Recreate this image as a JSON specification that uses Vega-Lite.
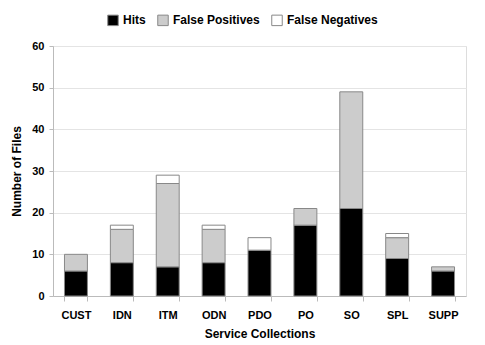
{
  "$schema": "https://vega.github.io/schema/vega-lite/v6.json",
  "width": 413,
  "height": 250,
  "autosize": {"type": "none"},
  "padding": {"left": 53, "top": 46, "right": 19, "bottom": 49},
  "background": "white",
  "config": {
    "font": "Liberation Sans",
    "view": {"stroke": "#dddddd", "strokeWidth": 1}
  },
  "data": {
    "values": [
      {"collection": "CUST", "type": "Hits", "order": 1, "files": 6},
      {"collection": "CUST", "type": "False Positives", "order": 2, "files": 4},
      {"collection": "CUST", "type": "False Negatives", "order": 3, "files": 0},
      {"collection": "IDN", "type": "Hits", "order": 1, "files": 8},
      {"collection": "IDN", "type": "False Positives", "order": 2, "files": 8},
      {"collection": "IDN", "type": "False Negatives", "order": 3, "files": 1},
      {"collection": "ITM", "type": "Hits", "order": 1, "files": 7},
      {"collection": "ITM", "type": "False Positives", "order": 2, "files": 20},
      {"collection": "ITM", "type": "False Negatives", "order": 3, "files": 2},
      {"collection": "ODN", "type": "Hits", "order": 1, "files": 8},
      {"collection": "ODN", "type": "False Positives", "order": 2, "files": 8},
      {"collection": "ODN", "type": "False Negatives", "order": 3, "files": 1},
      {"collection": "PDO", "type": "Hits", "order": 1, "files": 11},
      {"collection": "PDO", "type": "False Positives", "order": 2, "files": 0},
      {"collection": "PDO", "type": "False Negatives", "order": 3, "files": 3},
      {"collection": "PO", "type": "Hits", "order": 1, "files": 17},
      {"collection": "PO", "type": "False Positives", "order": 2, "files": 4},
      {"collection": "PO", "type": "False Negatives", "order": 3, "files": 0},
      {"collection": "SO", "type": "Hits", "order": 1, "files": 21},
      {"collection": "SO", "type": "False Positives", "order": 2, "files": 28},
      {"collection": "SO", "type": "False Negatives", "order": 3, "files": 0},
      {"collection": "SPL", "type": "Hits", "order": 1, "files": 9},
      {"collection": "SPL", "type": "False Positives", "order": 2, "files": 5},
      {"collection": "SPL", "type": "False Negatives", "order": 3, "files": 1},
      {"collection": "SUPP", "type": "Hits", "order": 1, "files": 6},
      {"collection": "SUPP", "type": "False Positives", "order": 2, "files": 1},
      {"collection": "SUPP", "type": "False Negatives", "order": 3, "files": 0}
    ]
  },
  "transform": [{"filter": "datum.files > 0"}],
  "mark": {"type": "bar", "stroke": "#888888", "strokeWidth": 1},
  "encoding": {
    "x": {
      "field": "collection",
      "type": "nominal",
      "sort": null,
      "scale": {"paddingInner": 0.5, "paddingOuter": 0.25},
      "axis": {
        "title": "Service Collections",
        "titleFontSize": 12,
        "titleFontWeight": "bold",
        "titleColor": "black",
        "titlePadding": 8,
        "labelAngle": 0,
        "labelFontSize": 11,
        "labelFontWeight": "bold",
        "labelColor": "black",
        "labelPadding": 8,
        "domainColor": "#bbbbbb",
        "tickColor": "#bbbbbb",
        "tickBand": "extent",
        "tickSize": 5
      }
    },
    "y": {
      "field": "files",
      "type": "quantitative",
      "stack": "zero",
      "scale": {"domain": [0, 60]},
      "axis": {
        "title": "Number of Files",
        "values": [0, 10, 20, 30, 40, 50, 60],
        "titleFontSize": 12,
        "titleFontWeight": "bold",
        "titleColor": "black",
        "titlePadding": 8,
        "labelFontSize": 11,
        "labelFontWeight": "bold",
        "labelColor": "black",
        "labelPadding": 5,
        "domainColor": "#bbbbbb",
        "tickColor": "#bbbbbb",
        "tickSize": 4,
        "gridColor": "#e4e4e4"
      }
    },
    "fill": {
      "field": "type",
      "type": "nominal",
      "scale": {
        "domain": ["Hits", "False Positives", "False Negatives"],
        "range": ["#000000", "#cccccc", "#ffffff"]
      },
      "legend": {
        "title": null,
        "orient": "none",
        "legendX": 54,
        "legendY": -32,
        "direction": "horizontal",
        "symbolType": "square",
        "symbolSize": 110,
        "symbolStrokeColor": "#888888",
        "symbolStrokeWidth": 1,
        "labelFontSize": 12,
        "labelFontWeight": "bold",
        "labelColor": "black",
        "columnPadding": 9
      }
    },
    "order": {"field": "order", "type": "quantitative"}
  }
}
